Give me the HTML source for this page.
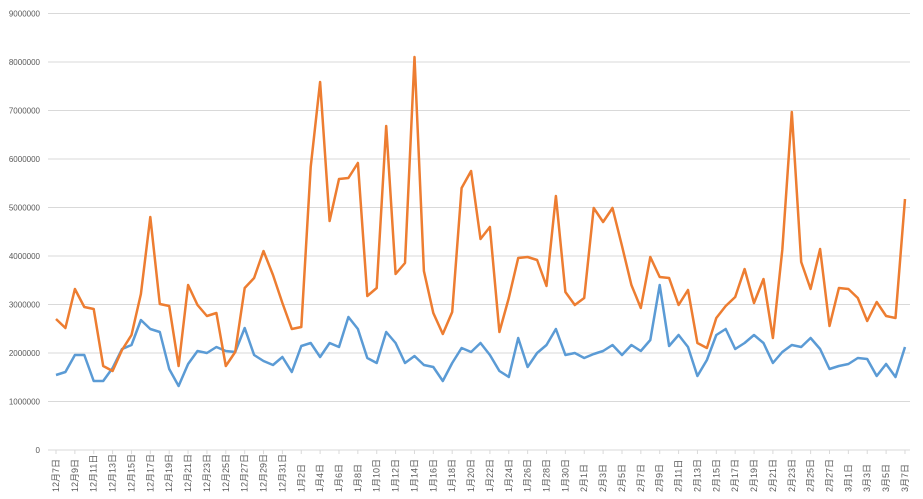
<!DOCTYPE html>
<html><head><meta charset="utf-8"><style>
html,body{margin:0;padding:0;background:#fff;}
svg{display:block;font-family:"Liberation Sans","Noto Sans CJK SC",sans-serif;}
</style></head><body>
<svg id="c" width="923" height="499" xmlns="http://www.w3.org/2000/svg"></svg>
<script>
const s=document.getElementById('c');let h='';
for(let i=0;i<=9;i++){const y=450-i*48.5;
h+=`<line x1="48" x2="910" y1="${y}" y2="${y}" stroke="#d9d9d9" stroke-width="1"/>`;
h+=`<text x="40" y="${y+3}" font-size="8" text-anchor="end" fill="#595959">${i*1000000}</text>`;}
const O=[319,328,289,307,309,366,371,350,335,294,217,304,306,366,285,305,316,313,366,352,288,278,251,275,303,329,327,167,82,221,179,178,163,296,288,126,274,263,57,271,313,334,312,188,171,239,227,332,298,258,257,260,286,196,292,305,298,208,222,208,246,285,308,257,277,278,305,290,343,348,318,306,297,269,303,279,338,250,112,262,289,249,326,288,289,298,321,302,316,318,199];
const B=[375,372,355,355,381,381,368,349,345,320,329,332,369,386,364,351,353,347,351,352,328,355,361,365,357,372,346,343,357,343,347,317,329,358,363,332,343,363,356,365,367,381,363,348,352,343,355,371,377,338,367,353,345,329,355,353,358,354,351,345,355,345,351,340,285,346,335,347,376,360,335,329,349,343,335,343,363,352,345,347,338,349,369,366,364,358,359,376,364,377,347];
const X=i=>56+i*9.433;
const pts=a=>a.map((y,i)=>X(i).toFixed(1)+','+y).join(' ');
h+=`<polyline points="${pts(B)}" fill="none" stroke="#5b9bd5" stroke-width="2.5" stroke-linejoin="round"/>`;
h+=`<polyline points="${pts(O)}" fill="none" stroke="#ed7d31" stroke-width="2.5" stroke-linejoin="round"/>`;
const md=[31,31,28,31];let m=12,d=7,mi=0;
for(let i=0;i<91;i++){
 if(i%2==0){const x=X(i);
  h+=`<line x1="${x}" x2="${x}" y1="450" y2="454" stroke="#d9d9d9"/>`;
  h+=`<text transform="translate(${x+3},492) rotate(-90)" font-size="9" fill="#595959">${m}月${d}日</text>`;}
 d++;const len=m==12?31:m==1?31:m==2?28:31;
 if(d>len){d=1;m=m==12?1:m+1;}
}
s.innerHTML=h;
</script>
</body></html>
